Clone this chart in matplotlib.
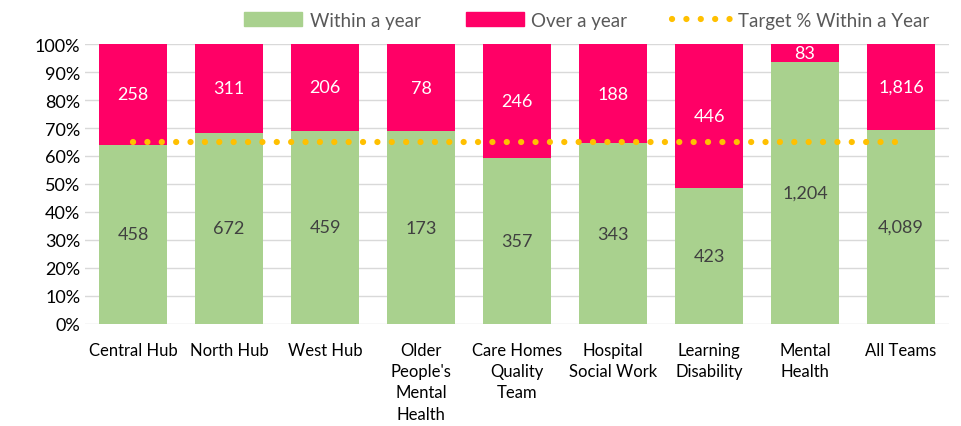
import numpy as np
import matplotlib.pyplot as plt
from matplotlib.lines import Line2D
from matplotlib.patches import Patch

plt.rcParams['font.family'] = ['Lato', 'DejaVu Sans']

# Data
teams = ['Central Hub', 'North Hub', 'West Hub', "Older\nPeople's\nMental\nHealth",
         'Care Homes\nQuality\nTeam', 'Hospital\nSocial Work', 'Learning\nDisability',
         'Mental\nHealth', 'All Teams']
within_year = [458, 672, 459, 173, 357, 343, 423, 1204, 4089]
over_year = [258, 311, 206, 78, 246, 188, 446, 83, 1816]
target_pct = 65

green = '#A9D18E'
pink = '#FF0066'
gold = '#FFC000'
dots = (0, (0.01, 2.29))

within = np.array(within_year, dtype=float)
over = np.array(over_year, dtype=float)
total = within + over
within_pct = within / total * 100
over_pct = over / total * 100
x = np.arange(len(teams))

fig = plt.figure(figsize=(9.62, 4.27), dpi=100)
ax = fig.add_axes([0.0884, 0.2389, 0.8981, 0.6557])

ax.bar(x, within_pct, width=0.71, color=green, zorder=2)
ax.bar(x, over_pct, width=0.71, bottom=within_pct, color=pink, zorder=2)
ax.plot(x, [target_pct] * len(x), linestyle=dots, color=gold,
        linewidth=4.5, dash_capstyle='round', zorder=3)

for i in range(len(x)):
    ax.text(x[i], within_pct[i] / 2, f'{within_year[i]:,}', ha='center', va='center',
            fontsize=13, color='#404040', zorder=4)
    ax.text(x[i], within_pct[i] + over_pct[i] / 2, f'{over_year[i]:,}', ha='center',
            va='center', fontsize=13, color='white', zorder=4)

ax.set_xlim(-0.5, len(x) - 0.5)
ax.set_ylim(0, 100)
ax.set_yticks(np.arange(0, 101, 10))
ax.set_yticklabels([f'{v}%' for v in range(0, 101, 10)], fontsize=13)
ax.set_xticks(x)
ax.set_xticklabels(teams, fontsize=12, linespacing=1.4)
ax.tick_params(axis='both', length=0, colors='#000000')
ax.tick_params(axis='x', pad=13)
ax.grid(axis='y', color='#D9D9D9', linewidth=1, zorder=0)
for s in ax.spines.values():
    s.set_visible(False)

handles = [Patch(color=green, label='Within a year'),
           Patch(color=pink, label='Over a year'),
           Line2D([0], [0], linestyle=dots, color=gold, linewidth=4.5,
                  dash_capstyle='round', label='Target % Within a Year')]
leg = fig.legend(handles=handles, loc='upper center', bbox_to_anchor=(0.61, 1.01),
                 ncol=3, frameon=False, fontsize=13.5, handlelength=3.1,
                 handleheight=0.72, columnspacing=2.4, handletextpad=0.4)
for t in leg.get_texts():
    t.set_color('#595959')

fig.savefig('out.png', dpi=100)
